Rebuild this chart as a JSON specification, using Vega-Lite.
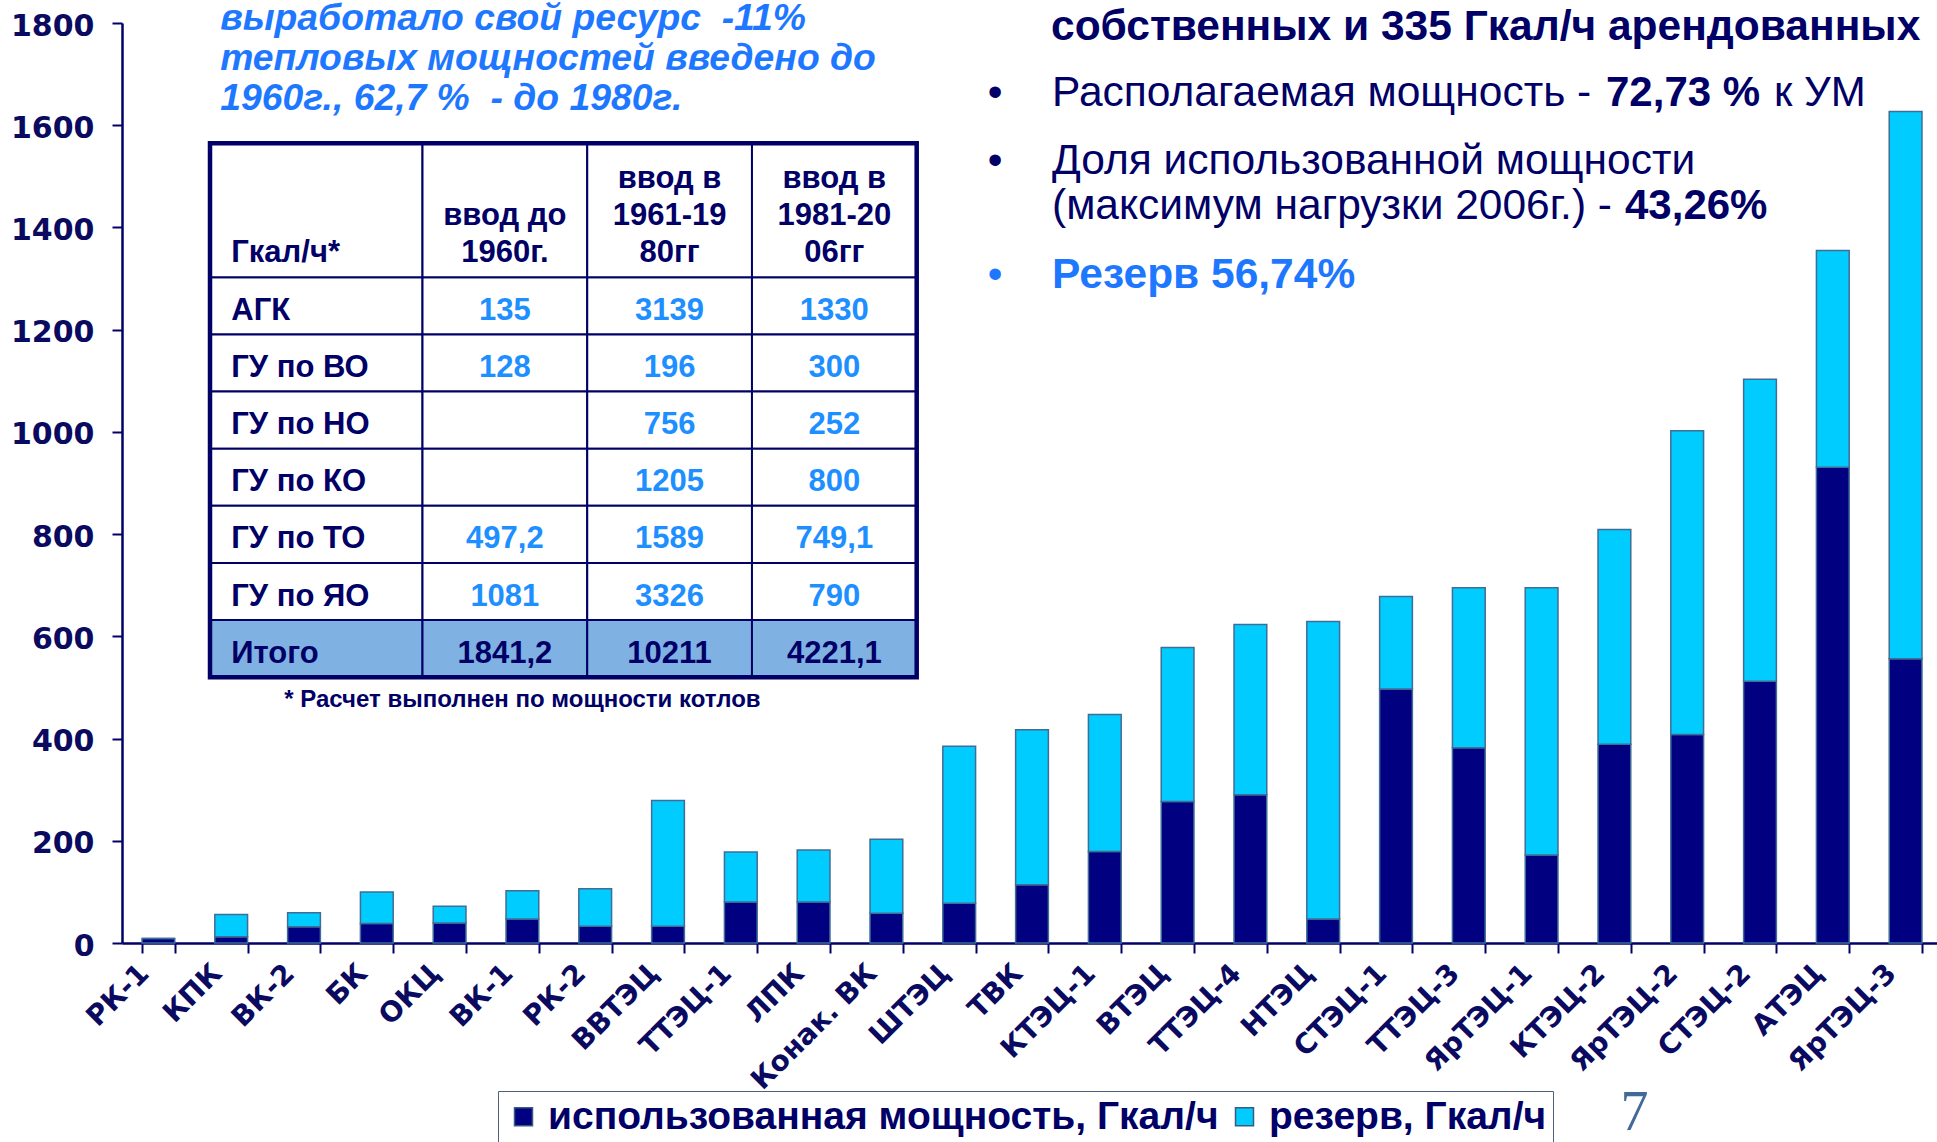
{
  "$schema": "https://vega.github.io/schema/vega-lite/v6.json",
  "width": 1815,
  "height": 920,
  "autosize": {"type": "none"},
  "padding": {"left": 122, "top": 23, "right": 0, "bottom": 199},
  "background": "white",
  "config": {
    "view": {"stroke": null},
    "font": "Liberation Sans"
  },
  "datasets": {
    "stations": [
      {"station": "РК-1", "series": "использованная мощность, Гкал/ч", "value": 9},
      {"station": "РК-1", "series": "резерв, Гкал/ч", "value": 0},
      {"station": "КПК", "series": "использованная мощность, Гкал/ч", "value": 12},
      {"station": "КПК", "series": "резерв, Гкал/ч", "value": 44},
      {"station": "ВК-2", "series": "использованная мощность, Гкал/ч", "value": 32},
      {"station": "ВК-2", "series": "резерв, Гкал/ч", "value": 27},
      {"station": "БК", "series": "использованная мощность, Гкал/ч", "value": 38},
      {"station": "БК", "series": "резерв, Гкал/ч", "value": 62},
      {"station": "ОКЦ", "series": "использованная мощность, Гкал/ч", "value": 39},
      {"station": "ОКЦ", "series": "резерв, Гкал/ч", "value": 33},
      {"station": "ВК-1", "series": "использованная мощность, Гкал/ч", "value": 47},
      {"station": "ВК-1", "series": "резерв, Гкал/ч", "value": 55},
      {"station": "РК-2", "series": "использованная мощность, Гкал/ч", "value": 33},
      {"station": "РК-2", "series": "резерв, Гкал/ч", "value": 73},
      {"station": "ВВТЭЦ", "series": "использованная мощность, Гкал/ч", "value": 33},
      {"station": "ВВТЭЦ", "series": "резерв, Гкал/ч", "value": 246},
      {"station": "ТТЭЦ-1", "series": "использованная мощность, Гкал/ч", "value": 80},
      {"station": "ТТЭЦ-1", "series": "резерв, Гкал/ч", "value": 98},
      {"station": "ЛПК", "series": "использованная мощность, Гкал/ч", "value": 80},
      {"station": "ЛПК", "series": "резерв, Гкал/ч", "value": 102},
      {"station": "Конак. ВК", "series": "использованная мощность, Гкал/ч", "value": 58},
      {"station": "Конак. ВК", "series": "резерв, Гкал/ч", "value": 145},
      {"station": "ШТЭЦ", "series": "использованная мощность, Гкал/ч", "value": 78},
      {"station": "ШТЭЦ", "series": "резерв, Гкал/ч", "value": 307},
      {"station": "ТВК", "series": "использованная мощность, Гкал/ч", "value": 114},
      {"station": "ТВК", "series": "резерв, Гкал/ч", "value": 303},
      {"station": "КТЭЦ-1", "series": "использованная мощность, Гкал/ч", "value": 179},
      {"station": "КТЭЦ-1", "series": "резерв, Гкал/ч", "value": 268},
      {"station": "ВТЭЦ", "series": "использованная мощность, Гкал/ч", "value": 277},
      {"station": "ВТЭЦ", "series": "резерв, Гкал/ч", "value": 301},
      {"station": "ТТЭЦ-4", "series": "использованная мощность, Гкал/ч", "value": 290},
      {"station": "ТТЭЦ-4", "series": "резерв, Гкал/ч", "value": 333},
      {"station": "НТЭЦ", "series": "использованная мощность, Гкал/ч", "value": 47},
      {"station": "НТЭЦ", "series": "резерв, Гкал/ч", "value": 582},
      {"station": "СТЭЦ-1", "series": "использованная мощность, Гкал/ч", "value": 497},
      {"station": "СТЭЦ-1", "series": "резерв, Гкал/ч", "value": 181},
      {"station": "ТТЭЦ-3", "series": "использованная мощность, Гкал/ч", "value": 382},
      {"station": "ТТЭЦ-3", "series": "резерв, Гкал/ч", "value": 313},
      {"station": "ЯрТЭЦ-1", "series": "использованная мощность, Гкал/ч", "value": 172},
      {"station": "ЯрТЭЦ-1", "series": "резерв, Гкал/ч", "value": 523},
      {"station": "КТЭЦ-2", "series": "использованная мощность, Гкал/ч", "value": 389},
      {"station": "КТЭЦ-2", "series": "резерв, Гкал/ч", "value": 420},
      {"station": "ЯрТЭЦ-2", "series": "использованная мощность, Гкал/ч", "value": 408},
      {"station": "ЯрТЭЦ-2", "series": "резерв, Гкал/ч", "value": 594},
      {"station": "СТЭЦ-2", "series": "использованная мощность, Гкал/ч", "value": 512},
      {"station": "СТЭЦ-2", "series": "резерв, Гкал/ч", "value": 591},
      {"station": "АТЭЦ", "series": "использованная мощность, Гкал/ч", "value": 931},
      {"station": "АТЭЦ", "series": "резерв, Гкал/ч", "value": 424},
      {"station": "ЯрТЭЦ-3", "series": "использованная мощность, Гкал/ч", "value": 556},
      {"station": "ЯрТЭЦ-3", "series": "резерв, Гкал/ч", "value": 1071}
    ],
    "trows": [
      {"row": "АГК"}, {"row": "ГУ по ВО"}, {"row": "ГУ по НО"}, {"row": "ГУ по КО"},
      {"row": "ГУ по ТО"}, {"row": "ГУ по ЯО"}, {"row": "Итого"}
    ],
    "tcells": [
      {"row": "АГК", "col": "ввод до 1960г.", "val": "135"},
      {"row": "АГК", "col": "ввод в 1961-1980гг", "val": "3139"},
      {"row": "АГК", "col": "ввод в 1981-2006гг", "val": "1330"},
      {"row": "ГУ по ВО", "col": "ввод до 1960г.", "val": "128"},
      {"row": "ГУ по ВО", "col": "ввод в 1961-1980гг", "val": "196"},
      {"row": "ГУ по ВО", "col": "ввод в 1981-2006гг", "val": "300"},
      {"row": "ГУ по НО", "col": "ввод до 1960г.", "val": ""},
      {"row": "ГУ по НО", "col": "ввод в 1961-1980гг", "val": "756"},
      {"row": "ГУ по НО", "col": "ввод в 1981-2006гг", "val": "252"},
      {"row": "ГУ по КО", "col": "ввод до 1960г.", "val": ""},
      {"row": "ГУ по КО", "col": "ввод в 1961-1980гг", "val": "1205"},
      {"row": "ГУ по КО", "col": "ввод в 1981-2006гг", "val": "800"},
      {"row": "ГУ по ТО", "col": "ввод до 1960г.", "val": "497,2"},
      {"row": "ГУ по ТО", "col": "ввод в 1961-1980гг", "val": "1589"},
      {"row": "ГУ по ТО", "col": "ввод в 1981-2006гг", "val": "749,1"},
      {"row": "ГУ по ЯО", "col": "ввод до 1960г.", "val": "1081"},
      {"row": "ГУ по ЯО", "col": "ввод в 1961-1980гг", "val": "3326"},
      {"row": "ГУ по ЯО", "col": "ввод в 1981-2006гг", "val": "790"},
      {"row": "Итого", "col": "ввод до 1960г.", "val": "1841,2"},
      {"row": "Итого", "col": "ввод в 1961-1980гг", "val": "10211"},
      {"row": "Итого", "col": "ввод в 1981-2006гг", "val": "4221,1"}
    ],
    "thead": [
      {"col": "ввод до 1960г.", "h": "\nввод до\n1960г."},
      {"col": "ввод в 1961-1980гг", "h": "ввод в\n1961-19\n80гг"},
      {"col": "ввод в 1981-2006гг", "h": "ввод в\n1981-20\n06гг"}
    ]
  },
  "layer": [
    {
      "layer": [
        {
          "data": {"name": "stations"},
          "mark": {"type": "bar", "stroke": "#3f6d96", "strokeWidth": 1.5},
          "encoding": {
            "x": {
              "field": "station", "type": "nominal", "sort": null,
              "scale": {
                "domain": ["РК-1","КПК","ВК-2","БК","ОКЦ","ВК-1","РК-2","ВВТЭЦ","ТТЭЦ-1","ЛПК","Конак. ВК","ШТЭЦ","ТВК","КТЭЦ-1","ВТЭЦ","ТТЭЦ-4","НТЭЦ","СТЭЦ-1","ТТЭЦ-3","ЯрТЭЦ-1","КТЭЦ-2","ЯрТЭЦ-2","СТЭЦ-2","АТЭЦ","ЯрТЭЦ-3"],
                "range": [0, 1820], "paddingInner": 0.55, "paddingOuter": 0.275
              },
              "axis": {
                "title": null, "labelAngle": -45, "labelAlign": "right", "labelBaseline": "middle",
                "labelFont": "DejaVu Sans", "labelFontWeight": "bold", "labelFontSize": 28,
                "labelColor": "#0a0a60", "labelPadding": 16, "labelOffset": -14,
                "labelOverlap": false, "labelBound": false, "labelLimit": 400,
                "tickBand": "extent", "tickSize": 10, "tickWidth": 2, "tickColor": "#000066",
                "domainColor": "#000066", "domainWidth": 2.5, "grid": false
              }
            },
            "y": {
              "field": "value", "type": "quantitative", "stack": "zero",
              "scale": {"domain": [0, 1800], "nice": false},
              "axis": {
                "title": null, "values": [0, 200, 400, 600, 800, 1000, 1200, 1400, 1600, 1800], "format": "d",
                "labelFont": "DejaVu Sans", "labelFontWeight": "bold", "labelFontSize": 30,
                "labelColor": "#0a0a60", "labelPadding": 18, "labelOffset": 3,
                "tickSize": 10, "tickWidth": 2, "tickColor": "#000066",
                "domainColor": "#000066", "domainWidth": 2.5, "grid": false
              }
            },
            "order": {"field": "series", "sort": "ascending"},
            "color": {
              "field": "series", "type": "nominal",
              "scale": {"domain": ["использованная мощность, Гкал/ч", "резерв, Гкал/ч"], "range": ["#000080", "#00ccff"]},
              "legend": {
                "orient": "none", "legendX": 376, "legendY": 1068, "direction": "horizontal",
                "title": null, "padding": 6, "strokeColor": "#4f607d",
                "symbolType": "square", "symbolSize": 324, "symbolStrokeColor": "#3a5a80", "symbolStrokeWidth": 1.5,
                "labelFont": "Liberation Sans", "labelFontWeight": "bold", "labelFontSize": 39,
                "labelColor": "#000066", "labelOffset": 5, "labelLimit": 2000, "columnPadding": 6
              }
            }
          }
        },
        {
          "data": {"values": [{"t": "собственных и 335 Гкал/ч арендованных"}]},
          "mark": {"type": "text", "align": "left", "baseline": "alphabetic", "font": "Liberation Sans", "fontWeight": "bold", "fontSize": 42.5, "color": "#000066", "dx": 19},
          "encoding": {"x": {"datum": "ТВК"}, "y": {"datum": 1766.7}, "text": {"field": "t"}}
        },
        {
          "data": {"values": [{"t": "•"}]},
          "mark": {"type": "text", "align": "center", "baseline": "alphabetic", "fontSize": 42, "color": "#000066", "dx": -37},
          "encoding": {"x": {"datum": "ТВК"}, "y": {"datum": 1637.6}, "text": {"field": "t"}}
        },
        {
          "data": {"values": [{"t": "Располагаемая мощность -"}]},
          "mark": {"type": "text", "align": "left", "baseline": "alphabetic", "fontSize": 42.5, "color": "#000066", "dx": 20},
          "encoding": {"x": {"datum": "ТВК"}, "y": {"datum": 1637.6}, "text": {"field": "t"}}
        },
        {
          "data": {"values": [{"t": "72,73 %"}]},
          "mark": {"type": "text", "align": "left", "baseline": "alphabetic", "fontSize": 42, "fontWeight": "bold", "color": "#000066", "dx": 574},
          "encoding": {"x": {"datum": "ТВК"}, "y": {"datum": 1637.6}, "text": {"field": "t"}}
        },
        {
          "data": {"values": [{"t": "к УМ"}]},
          "mark": {"type": "text", "align": "left", "baseline": "alphabetic", "fontSize": 42, "color": "#000066", "dx": 742},
          "encoding": {"x": {"datum": "ТВК"}, "y": {"datum": 1637.6}, "text": {"field": "t"}}
        },
        {
          "data": {"values": [{"t": "•"}]},
          "mark": {"type": "text", "align": "center", "baseline": "alphabetic", "fontSize": 42, "color": "#000066", "dx": -37},
          "encoding": {"x": {"datum": "ТВК"}, "y": {"datum": 1504}, "text": {"field": "t"}}
        },
        {
          "data": {"values": [{"t": "Доля использованной мощности\n(максимум нагрузки 2006г.) -"}]},
          "mark": {"type": "text", "align": "left", "baseline": "alphabetic", "fontSize": 42.5, "color": "#000066", "dx": 20, "lineBreak": "\n", "lineHeight": 45},
          "encoding": {"x": {"datum": "ТВК"}, "y": {"datum": 1504}, "text": {"field": "t"}}
        },
        {
          "data": {"values": [{"t": "43,26%"}]},
          "mark": {"type": "text", "align": "left", "baseline": "alphabetic", "fontSize": 42, "fontWeight": "bold", "color": "#000066", "dx": 593},
          "encoding": {"x": {"datum": "ТВК"}, "y": {"datum": 1415.9}, "text": {"field": "t"}}
        },
        {
          "data": {"values": [{"t": "•"}]},
          "mark": {"type": "text", "align": "center", "baseline": "alphabetic", "fontSize": 42, "color": "#1e78ff", "dx": -37},
          "encoding": {"x": {"datum": "ТВК"}, "y": {"datum": 1281.5}, "text": {"field": "t"}}
        },
        {
          "data": {"values": [{"t": "Резерв 56,74%"}]},
          "mark": {"type": "text", "align": "left", "baseline": "alphabetic", "fontSize": 42.5, "fontWeight": "bold", "color": "#1e78ff", "dx": 20},
          "encoding": {"x": {"datum": "ТВК"}, "y": {"datum": 1281.5}, "text": {"field": "t"}}
        },
        {
          "data": {"values": [{"t": "выработало свой ресурс \u00a0-11%\nтепловых мощностей введено до\n1960г., 62,7 % \u00a0- до 1980г."}]},
          "mark": {"type": "text", "align": "left", "baseline": "alphabetic", "font": "Liberation Sans", "fontSize": 37.3, "fontWeight": "bold", "fontStyle": "italic", "color": "#1e78ff", "dx": -11, "lineBreak": "\n", "lineHeight": 40},
          "encoding": {"x": {"datum": "КПК"}, "y": {"datum": 1786.3}, "text": {"field": "t"}}
        },
        {
          "data": {"values": [{"t": "* Расчет выполнен по мощности котлов"}]},
          "mark": {"type": "text", "align": "center", "baseline": "alphabetic", "fontSize": 24, "fontWeight": "bold", "color": "#000066"},
          "encoding": {"x": {"datum": "ВК-1"}, "y": {"datum": 461.7}, "text": {"field": "t"}}
        },
        {
          "data": {"values": [{"t": "7"}]},
          "mark": {"type": "text", "align": "center", "baseline": "alphabetic", "font": "Liberation Serif", "fontSize": 56, "color": "#41699a", "dx": 20},
          "encoding": {"x": {"datum": "КТЭЦ-2"}, "y": {"datum": -365.9}, "text": {"field": "t"}}
        }
      ]
    },
    {
      "data": {"name": "trows"},
      "layer": [
        {
          "mark": {"type": "rect", "stroke": "#000066", "strokeWidth": 2},
          "encoding": {
            "x": {"datum": "lab", "type": "nominal", "scale": {"domain": ["lab"], "range": [88, 300.5], "paddingInner": 0, "paddingOuter": 0}, "axis": null},
            "y": {"field": "row", "type": "nominal", "sort": null, "scale": {"domain": ["АГК","ГУ по ВО","ГУ по НО","ГУ по КО","ГУ по ТО","ГУ по ЯО","Итого"], "range": [254.3, 654.2], "paddingInner": 0, "paddingOuter": 0}, "axis": null},
            "fill": {"condition": {"test": "datum.row === 'Итого'", "value": "#80b1e3"}, "value": "#ffffff"}
          }
        },
        {
          "mark": {"type": "text", "align": "left", "baseline": "alphabetic", "fontSize": 31, "fontWeight": "bold", "color": "#000066", "dx": -85, "dy": 14},
          "encoding": {
            "x": {"datum": "lab", "type": "nominal", "axis": null},
            "y": {"field": "row", "type": "nominal", "sort": null, "axis": null},
            "text": {"field": "row"}
          }
        }
      ]
    },
    {
      "data": {"name": "tcells"},
      "layer": [
        {
          "mark": {"type": "rect", "stroke": "#000066", "strokeWidth": 2},
          "encoding": {
            "x": {"field": "col", "type": "nominal", "sort": null, "scale": {"domain": ["ввод до 1960г.", "ввод в 1961-1980гг", "ввод в 1981-2006гг"], "range": [300.5, 794.7], "paddingInner": 0, "paddingOuter": 0}, "axis": null},
            "y": {"field": "row", "type": "nominal", "sort": null, "scale": {"domain": ["АГК","ГУ по ВО","ГУ по НО","ГУ по КО","ГУ по ТО","ГУ по ЯО","Итого"], "range": [254.3, 654.2], "paddingInner": 0, "paddingOuter": 0}, "axis": null},
            "fill": {"condition": {"test": "datum.row === 'Итого'", "value": "#80b1e3"}, "value": "#ffffff"}
          }
        },
        {
          "mark": {"type": "text", "align": "center", "baseline": "alphabetic", "fontSize": 31, "fontWeight": "bold", "dy": 14},
          "encoding": {
            "x": {"field": "col", "type": "nominal", "sort": null, "axis": null},
            "y": {"field": "row", "type": "nominal", "sort": null, "axis": null},
            "text": {"field": "val"},
            "color": {"condition": {"test": "datum.row === 'Итого'", "value": "#000066"}, "value": "#1e8fff"}
          }
        }
      ]
    },
    {
      "data": {"values": [{"h": "Гкал/ч*"}]},
      "layer": [
        {
          "mark": {"type": "rect", "stroke": "#000066", "strokeWidth": 2, "fill": "#ffffff"},
          "encoding": {
            "x": {"datum": "lab", "type": "nominal", "scale": {"domain": ["lab"], "range": [88, 300.5], "paddingInner": 0, "paddingOuter": 0}, "axis": null},
            "y": {"datum": "hdr", "type": "nominal", "scale": {"domain": ["hdr"], "range": [120.2, 254.3], "paddingInner": 0, "paddingOuter": 0}, "axis": null}
          }
        },
        {
          "mark": {"type": "text", "align": "left", "baseline": "alphabetic", "fontSize": 31, "fontWeight": "bold", "color": "#000066", "dx": -85, "dy": 52.1},
          "encoding": {
            "x": {"datum": "lab", "type": "nominal", "axis": null},
            "y": {"datum": "hdr", "type": "nominal", "axis": null},
            "text": {"field": "h"}
          }
        }
      ]
    },
    {
      "data": {"name": "thead"},
      "layer": [
        {
          "mark": {"type": "rect", "stroke": "#000066", "strokeWidth": 2, "fill": "#ffffff"},
          "encoding": {
            "x": {"field": "col", "type": "nominal", "sort": null, "scale": {"domain": ["ввод до 1960г.", "ввод в 1961-1980гг", "ввод в 1981-2006гг"], "range": [300.5, 794.7], "paddingInner": 0, "paddingOuter": 0}, "axis": null},
            "y": {"datum": "hdr", "type": "nominal", "scale": {"domain": ["hdr"], "range": [120.2, 254.3], "paddingInner": 0, "paddingOuter": 0}, "axis": null}
          }
        },
        {
          "mark": {"type": "text", "align": "center", "baseline": "alphabetic", "fontSize": 31, "fontWeight": "bold", "color": "#000066", "dy": -22.3, "lineBreak": "\n", "lineHeight": 37.2},
          "encoding": {
            "x": {"field": "col", "type": "nominal", "sort": null, "axis": null},
            "y": {"datum": "hdr", "type": "nominal", "axis": null},
            "text": {"field": "h"}
          }
        }
      ]
    },
    {
      "data": {"values": [{"b": "border"}]},
      "mark": {"type": "rect", "stroke": "#000066", "strokeWidth": 4.5, "fill": null, "fillOpacity": 0},
      "encoding": {
        "x": {"datum": "t", "type": "nominal", "scale": {"domain": ["t"], "range": [88, 794.7], "paddingInner": 0, "paddingOuter": 0}, "axis": null},
        "y": {"datum": "t", "type": "nominal", "scale": {"domain": ["t"], "range": [120.2, 654.2], "paddingInner": 0, "paddingOuter": 0}, "axis": null}
      }
    }
  ],
  "resolve": {"scale": {"x": "independent", "y": "independent", "color": "independent", "fill": "independent"}}
}
